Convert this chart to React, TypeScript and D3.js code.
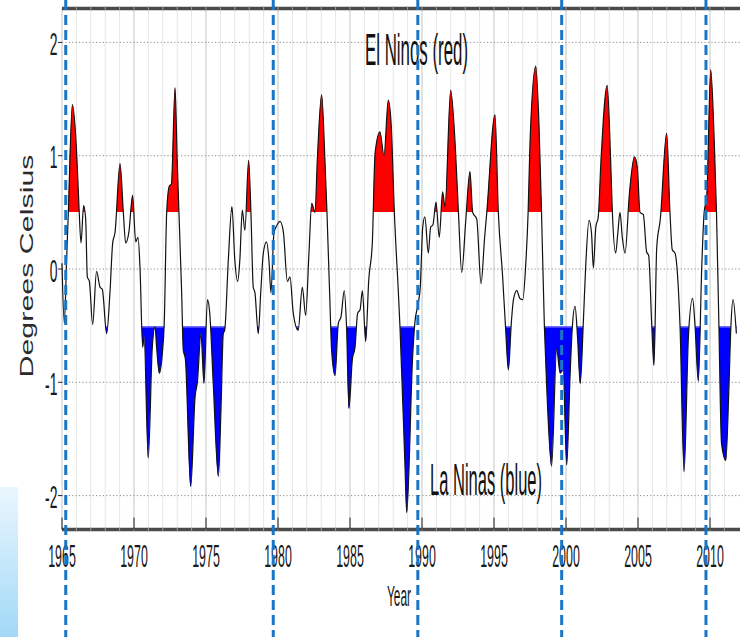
import React from "react";
import * as d3 from "d3";

// ONI-style anomaly (decimal year, degrees C)
const years = [
  1965.0, 1965.16, 1965.32, 1965.44, 1965.72, 1966.02, 1966.18, 1966.32, 1966.5, 1966.64,
  1966.76, 1966.9, 1967.13, 1967.4, 1967.64, 1967.8, 1968.1, 1968.33, 1968.52, 1968.68,
  1969.03, 1969.26, 1969.42, 1969.65, 1969.9, 1970.12, 1970.28, 1970.42, 1970.6, 1970.7,
  1970.99, 1971.27, 1971.46, 1971.57, 1971.76, 1971.97, 1972.1, 1972.27, 1972.45, 1972.6,
  1972.85, 1973.0, 1973.12, 1973.31, 1973.42, 1973.57, 1973.94, 1974.24, 1974.4, 1974.65,
  1974.86, 1975.1, 1975.26, 1975.5, 1975.86, 1976.04, 1976.2, 1976.3, 1976.55, 1976.8,
  1977.0, 1977.2, 1977.35, 1977.52, 1977.7, 1977.96, 1978.12, 1978.28, 1978.4, 1978.63,
  1978.8, 1978.98, 1979.2, 1979.37, 1979.51, 1979.72, 1979.9, 1980.14, 1980.37, 1980.65,
  1980.83, 1981.06, 1981.4, 1981.69, 1981.92, 1982.15, 1982.34, 1982.57, 1982.73, 1983.03,
  1983.26, 1983.4, 1983.6, 1983.72, 1983.96, 1984.19, 1984.38, 1984.6, 1984.76, 1984.93,
  1985.16, 1985.35, 1985.53, 1985.7, 1985.86, 1986.09, 1986.3, 1986.55, 1986.74, 1987.08,
  1987.36, 1987.66, 1987.87, 1988.08, 1988.36, 1988.47, 1988.82, 1988.94, 1989.35, 1989.5,
  1989.74, 1989.88, 1990.05, 1990.2, 1990.44, 1990.6, 1990.76, 1990.97, 1991.2, 1991.43,
  1991.6, 1991.99, 1992.3, 1992.53, 1992.76, 1993.03, 1993.33, 1993.52, 1993.8, 1994.1,
  1994.35, 1994.5, 1995.07, 1995.3, 1995.6, 1995.8, 1996.0, 1996.2, 1996.35, 1996.58,
  1996.8, 1997.0, 1997.2, 1997.37, 1997.5, 1997.9, 1998.13, 1998.3, 1998.5, 1998.66,
  1999.0, 1999.35, 1999.6, 1999.8, 2000.05, 2000.28, 2000.44, 2000.63, 2000.8, 2000.99,
  2001.2, 2001.37, 2001.6, 2001.77, 2001.9, 2002.07, 2002.24, 2002.43, 2002.86, 2003.1,
  2003.22, 2003.45, 2003.6, 2003.75, 2003.91, 2004.1, 2004.4, 2004.75, 2004.95, 2005.14,
  2005.37, 2005.6, 2005.74, 2005.95, 2006.11, 2006.3, 2006.55, 2006.99, 2007.22, 2007.38,
  2007.57, 2007.92, 2008.2, 2008.5, 2008.79, 2008.95, 2009.19, 2009.43, 2009.6, 2009.77,
  2010.05, 2010.3, 2010.45, 2010.62, 2010.8, 2011.1, 2011.3, 2011.45, 2011.6, 2011.83,
];
const oni = [
  0.05, -0.48, 0.08, 0.5, 1.45, 1.02, 0.55, 0.23, 0.56, 0.45,
  -0.07, -0.11, -0.49, -0.02, -0.16, -0.18, -0.57, -0.21, 0.23, 0.32,
  0.93, 0.5, 0.23, 0.33, 0.65, 0.24, 0.28, 0.0, -0.69, -0.6,
  -1.67, -0.69, -0.51, -0.69, -0.92, -0.74, -0.48, 0.5, 0.73, 0.75,
  1.6, 0.96, 0.5, -0.21, -0.71, -0.8, -1.92, -1.13, -1.0, -0.57,
  -1.01, -0.27, -0.39, -1.0, -1.83, -1.24, -0.57, -0.54, 0.08, 0.55,
  0.08, -0.11, 0.08, 0.52, 0.34, 0.96, 0.5, -0.16, -0.21, -0.57,
  -0.21, 0.14, 0.24, 0.08, -0.21, 0.32, 0.38, 0.42, 0.33, -0.11,
  -0.07, -0.39, -0.54, -0.16, -0.41, 0.14, 0.58, 0.5, 0.96, 1.54,
  0.96, 0.5, -0.27, -0.71, -0.94, -0.48, -0.42, -0.19, -0.51, -1.23,
  -0.8, -0.69, -0.39, -0.36, -0.19, -0.64, -0.1, 0.23, 1.02, 1.21,
  1.0, 1.49, 1.25, 0.5, -0.21, -0.51, -1.74, -2.15, -0.77, -0.48,
  -0.3, -0.16, 0.37, 0.46, 0.14, 0.37, 0.39, 0.59, 0.28, 0.68,
  0.55, 1.58, 1.11, 0.5, -0.03, 0.41, 0.86, 0.5, 0.44, -0.13,
  0.28, 0.5, 1.36, 0.5, -0.07, -0.51, -0.89, -0.48, -0.27, -0.19,
  -0.26, -0.27, 0.03, 0.5, 1.11, 1.79, 1.25, 0.5, -0.51, -1.04,
  -1.74, -0.71, -0.92, -0.89, -1.73, -0.95, -0.51, -0.33, -0.6, -1.01,
  -0.48, 0.03, 0.43, 0.32, 0.01, 0.37, 0.46, 0.96, 1.62, 0.96,
  0.5, 0.14, 0.32, 0.5, 0.28, 0.14, 0.66, 0.99, 0.9, 0.5,
  0.48, 0.15, 0.12, -0.48, -0.85, 0.19, 0.44, 1.2, 0.5, 0.17,
  0.14, -0.51, -1.79, -0.6, -0.26, -0.48, -0.99, 0.03, 0.51, 0.62,
  1.76, 1.11, 0.5, -0.51, -1.54, -1.69, -1.1, -0.51, -0.27, -0.57,
];

const xTickYears = [1965, 1970, 1975, 1980, 1985, 1990, 1995, 2000, 2005, 2010];
const yTickValues = [-2, -1, 0, 1, 2];
const markerYears = [1965.26, 1979.67, 1989.71, 1999.7, 2009.72];
const threshold = 0.5;

const FONT = "'Liberation Sans', Arial, sans-serif";
const SQUISH = 0.4; // the source image is compressed horizontally

export default function App() {
  const W = 740;
  const H = 637;
  const x = d3.scaleLinear().domain([1965, 2012]).range([62, 738.8]);
  const y = d3.scaleLinear().domain([-2.3, 2.3]).range([529.6, 8.4]);
  const [top, bottom] = [y(2.3), y(-2.3)];
  const redEdge = Math.floor(y(threshold));
  const blueEdge = Math.ceil(y(-threshold));

  const pts: [number, number][] = years.map((t, i) => [t, oni[i]]);
  const curve = d3.curveMonotoneX;
  const line = d3.line<[number, number]>().x((d) => x(d[0])).y((d) => y(d[1])).curve(curve);
  const redArea = d3.area<[number, number]>().x((d) => x(d[0])).y0(y(threshold)).y1((d) => y(d[1])).curve(curve);
  const blueArea = d3.area<[number, number]>().x((d) => x(d[0])).y0(y(-threshold)).y1((d) => y(d[1])).curve(curve);
  const blueD = blueArea(pts) ?? "";

  const gridYears = d3.range(1966, 2012);

  return (
    <svg width={W} height={H} style={{ position: "absolute", left: 0, top: 0, background: "#fff" }}>
      <defs>
        <linearGradient id="sidebar" x1="0" y1="0" x2="0" y2="1">
          <stop offset="0" stopColor="#eaf6fe" />
          <stop offset="1" stopColor="#a2d9f7" />
        </linearGradient>
        <clipPath id="aboveT">
          <rect x={0} y={0} width={W} height={redEdge} />
        </clipPath>
        <clipPath id="belowT">
          <rect x={0} y={blueEdge} width={W} height={H} />
        </clipPath>
        <clipPath id="blueShape">
          <path d={blueD} />
        </clipPath>
      </defs>

      <rect x={0} y={487} width={18} height={150} fill="url(#sidebar)" />

      {/* vertical year grid */}
      {gridYears.map((yr) => (
        <line key={yr} x1={x(yr)} x2={x(yr)} y1={top} y2={bottom}
          stroke={yr % 5 === 0 ? "#c4c4c4" : "#e6e6e6"} strokeWidth={1} />
      ))}
      <line x1={x(1965)} x2={x(1965)} y1={top} y2={bottom} stroke="#c4c4c4" />

      {/* horizontal dotted grid */}
      {yTickValues.map((v) => (
        <line key={v} x1={x(1965)} x2={W} y1={y(v)} y2={y(v)}
          stroke="#8c8c8c" strokeWidth={1} strokeDasharray="1.2,2.2" />
      ))}

      {/* anomaly fills */}
      <path d={redArea(pts) ?? ""} fill="#ff0000" clipPath="url(#aboveT)" />
      <path d={blueD} fill="#0000ff" clipPath="url(#belowT)" />
      <g clipPath="url(#blueShape)">
        <rect x={x(1965)} y={blueEdge} width={W} height={1.6} fill="#6e6eff" />
      </g>
      <path d={line(pts) ?? ""} fill="none" stroke="#111" strokeWidth={1.2} />

      {/* top / bottom frame bands */}
      {[top, bottom].map((yy, i) => (
        <g key={i}>
          <line x1={x(1965)} x2={W} y1={yy} y2={yy} stroke="#4a4a4a" strokeWidth={3.5} />
          {gridYears.map((yr) => (
            <line key={yr} x1={x(yr)} x2={x(yr)} y1={yy - 1.8} y2={yy + 1.8} stroke="#9a9a9a" strokeWidth={1} />
          ))}
        </g>
      ))}

      {/* ticks */}
      {xTickYears.map((yr) => (
        <line key={yr} x1={x(yr)} x2={x(yr)} y1={bottom - 12} y2={bottom} stroke="#222" strokeWidth={1} />
      ))}
      {yTickValues.map((v) => (
        <line key={v} x1={x(1965) - 4} x2={x(1965)} y1={y(v)} y2={y(v)} stroke="#222" strokeWidth={1} />
      ))}

      {/* tick labels */}
      {xTickYears.map((yr) => (
        <text key={yr} transform={`translate(${x(yr)},566.5) scale(${SQUISH},1)`} textAnchor="middle"
          fontFamily={FONT} fontSize={31} fill="#1a1a1a">{yr}</text>
      ))}
      {yTickValues.map((v) => (
        <text key={v} transform={`translate(57.5,${y(v) + 12.5}) scale(${SQUISH + 0.05},1)`} textAnchor="end"
          fontFamily={FONT} fontSize={31} fill="#1a1a1a">{v < 0 ? `-${-v}` : v}</text>
      ))}

      {/* axis titles */}
      <text transform={`translate(399,606) scale(0.4,1)`} textAnchor="middle" fontFamily={FONT}
        fontSize={30} fill="#1a1a1a">Year</text>
      <text transform="translate(33,266) rotate(-90)" x={-111.5} y={0} fontFamily={FONT} fontSize={18}
        fill="#2a2a2a" textLength={223} lengthAdjust="spacingAndGlyphs">Degrees Celsius</text>

      {/* annotations */}
      <text x={365} y={65} fontFamily={FONT} fontSize={44} fill="#111"
        textLength={103} lengthAdjust="spacingAndGlyphs">El Ninos (red)</text>
      <text x={430} y={495} fontFamily={FONT} fontSize={45} fill="#111"
        textLength={112} lengthAdjust="spacingAndGlyphs">La Ninas (blue)</text>

      {/* decade marker lines */}
      {markerYears.map((yr) => (
        <line key={yr} x1={x(yr)} x2={x(yr)} y1={0} y2={H} stroke="#1976c6" strokeWidth={3}
          strokeDasharray="10,5" />
      ))}
    </svg>
  );
}
